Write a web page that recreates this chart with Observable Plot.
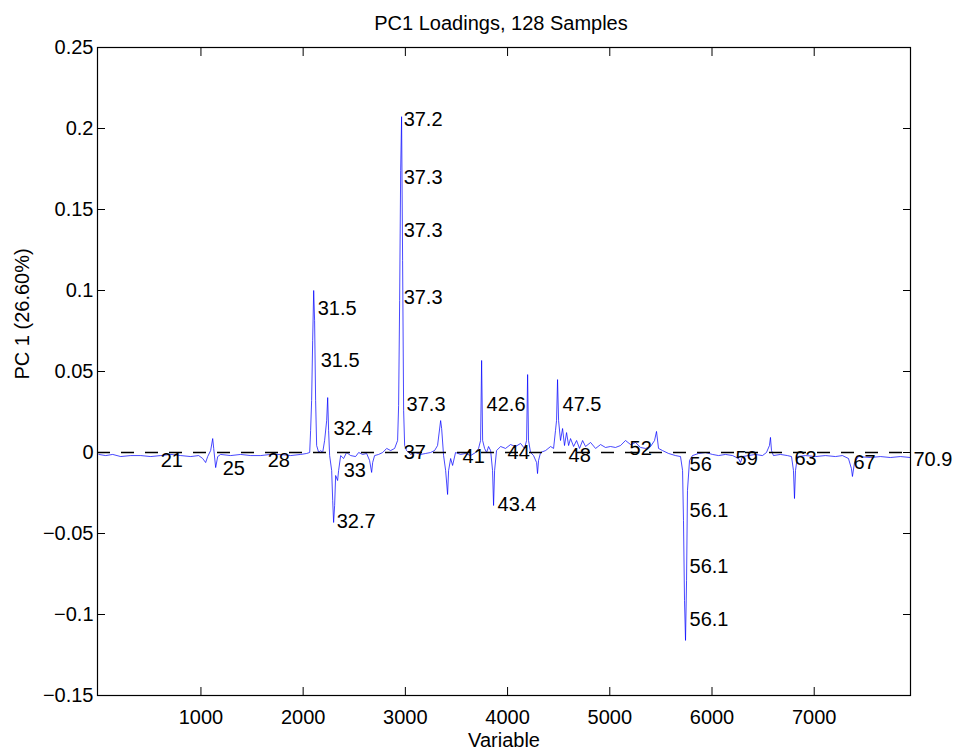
<!DOCTYPE html>
<html>
<head>
<meta charset="utf-8">
<script src="https://cdn.jsdelivr.net/npm/d3@7"></script>
<script src="https://cdn.jsdelivr.net/npm/@observablehq/plot@0.6"></script>
<style>
  html, body { margin: 0; padding: 0; background: #fff; }
  #chart { width: 958px; height: 751px; }
</style>
</head>
<body>
<div id="chart"></div>
<script>
// ---- Data ----
const titleText = "PC1 Loadings, 128 Samples";
const xLabel = "Variable";
const yLabel = "PC 1 (26.60%)";

const xDomain = [-12, 7942];
const yDomain = [-0.15, 0.25];
const xTicks = [1000, 2000, 3000, 4000, 5000, 6000, 7000];
const yTicks = [-0.15, -0.1, -0.05, 0, 0.05, 0.1, 0.15, 0.2, 0.25];

// PC1 loading trace (variable index, loading)
const variable = [
  1, 68, 137, 215, 313, 411, 509, 606, 704, 802, 900, 978, 1017, 1046, 1066, 1095, 1115, 1125, 1144, 1164,
  1193, 1291, 1389, 1487, 1584, 1682, 1780, 1878, 1976, 2034, 2064, 2073, 2083, 2093, 2103, 2112, 2122, 2132, 2152, 2171,
  2191, 2210, 2230, 2240, 2249, 2259, 2279, 2289, 2298, 2308, 2318, 2337, 2347, 2367, 2396, 2425, 2465, 2513, 2543, 2582,
  2621, 2650, 2670, 2680, 2699, 2738, 2778, 2817, 2856, 2895, 2924, 2934, 2944, 2954, 2963, 2973, 2983, 2993, 3012, 3051,
  3100, 3149, 3198, 3247, 3286, 3315, 3345, 3355, 3374, 3394, 3413, 3423, 3443, 3462, 3491, 3540, 3589, 3638, 3687, 3716,
  3736, 3746, 3756, 3775, 3795, 3814, 3834, 3853, 3863, 3873, 3892, 3932, 3980, 4029, 4078, 4127, 4166, 4186, 4196, 4205,
  4225, 4254, 4284, 4293, 4303, 4323, 4372, 4421, 4450, 4469, 4479, 4489, 4499, 4518, 4538, 4557, 4577, 4597, 4616, 4646,
  4675, 4704, 4734, 4763, 4812, 4861, 4910, 4958, 5007, 5056, 5105, 5154, 5203, 5252, 5301, 5350, 5399, 5438, 5457, 5477,
  5516, 5575, 5643, 5692, 5712, 5721, 5731, 5741, 5751, 5760, 5780, 5809, 5868, 5936, 6005, 6064, 6132, 6201, 6259, 6279,
  6298, 6357, 6425, 6494, 6533, 6562, 6572, 6582, 6601, 6670, 6738, 6778, 6797, 6807, 6817, 6836, 6914, 7012, 7110, 7208,
  7276, 7335, 7364, 7374, 7394, 7433, 7550, 7648, 7746, 7844, 7941
];
const loading = [
  -0.0012, -0.0019, -0.0012, -0.0025, -0.0019, -0.0019, -0.0025, -0.0019, -0.0012, -0.0019, -0.0025, -0.0019, -0.0037, -0.0062, -0.0025, 0.0012, 0.0086, 0.0025, -0.0093, -0.0025,
  -0.0012, -0.0019, -0.0012, -0.0019, -0.0019, -0.0012, -0.0012, -0.0019, -0.0012, -0.0006, 0, 0.0136, 0.0321, 0.0691, 0.1000, 0.0814, 0.0321, 0.0043, 0, 0.0012,
  0, 0.0074, 0.0197, 0.0339, 0.0136, -0.0019, -0.0111, -0.0296, -0.0432, -0.0327, -0.0142, -0.0173, -0.0111, -0.0019, -0.0037, 0, -0.0019, -0.0025, 0, -0.0012,
  -0.0006, -0.0049, -0.0123, -0.0062, -0.0019, -0.0012, 0, 0.0025, 0.0012, 0.0025, 0.0074, 0.0290, 0.0938, 0.1740, 0.2073, 0.1185, 0.0259, 0.0043, 0.0012, -0.0012,
  0, -0.0012, -0.0006, 0, 0.0012, 0.0043, 0.0197, 0.0148, -0.0019, -0.0111, -0.0259, -0.0111, -0.0037, -0.0080, 0, -0.0012, -0.0006, -0.0019, 0, 0.0025,
  0.0074, 0.0568, 0.0074, 0.0025, 0, 0.0037, 0.0012, -0.0111, -0.0327, -0.0111, 0.0012, 0.0037, 0.0025, 0.0049, 0.0037, 0.0056, 0.0025, 0.0074, 0.0481, 0.0074,
  0, -0.0019, -0.0062, -0.0130, -0.0049, 0, 0.0012, 0.0037, 0.0025, 0.0136, 0.0197, 0.0450, 0.0197, 0.0074, 0.0148, 0.0043, 0.0123, 0.0043, 0.0086, 0.0037,
  0.0074, 0.0025, 0.0074, 0.0037, 0.0062, 0.0025, 0.0049, 0.0031, 0.0037, 0.0031, 0.0043, 0.0074, 0.0049, 0.0062, 0.0031, 0.0025, 0.0037, 0.0074, 0.0130, 0.0025,
  0.0012, -0.0006, -0.0019, -0.0025, -0.0111, -0.0420, -0.0913, -0.1160, -0.0790, -0.0234, -0.0049, -0.0019, -0.0006, 0, -0.0012, -0.0019, -0.0012, -0.0019, -0.0037, -0.0062,
  -0.0025, -0.0019, -0.0012, -0.0019, 0, 0.0043, 0.0093, 0.0012, -0.0019, -0.0012, -0.0019, -0.0025, -0.0111, -0.0284, -0.0111, -0.0025, -0.0019, -0.0025, -0.0019, -0.0025,
  -0.0019, -0.0037, -0.0099, -0.0148, -0.0062, -0.0025, -0.0031, -0.0025, -0.0031, -0.0025, -0.0031
];

// Peak annotations (retention times)
const labelText = ["21", "25", "28", "31.5", "31.5", "32.4", "33", "32.7", "37.2", "37.3", "37.3", "37.3", "37.3", "37",
  "41", "42.6", "43.4", "44", "47.5", "48", "52", "56", "56.1", "56.1", "56.1", "59", "63", "67", "70.9"];
const labelX = [606, 1213, 1653, 2142, 2171, 2298, 2396, 2328, 2983, 2983, 2983, 2983, 3012, 2983,
  3560, 3795, 3902, 4000, 4538, 4597, 5193, 5780, 5780, 5780, 5780, 6230, 6807, 7384, 7971];
const labelY = [-0.0049, -0.0099, -0.0049, 0.0888, 0.0568, 0.0148, -0.0111, -0.0426, 0.2055, 0.1697, 0.1370, 0.0956, 0.0296, 0,
  -0.0025, 0.0296, -0.0321, 0, 0.0296, -0.0019, 0.0025, -0.0074, -0.0358, -0.0703, -0.1030, -0.0037, -0.0037, -0.0062, -0.0043];

// ---- Build tables ----
const trace = variable.map((v, i) => ({variable: v, loading: loading[i]}));
const labels = labelText.map((t, i) => ({text: t, x: labelX[i], y: labelY[i]}));

const font = "'Liberation Sans', Arial, Helvetica, sans-serif";

const chart = Plot.plot({
  width: 958,
  height: 751,
  marginLeft: 97,
  marginRight: 48,
  marginTop: 47,
  marginBottom: 56,
  style: {fontFamily: font, fontSize: "20px", color: "#000", background: "#fff"},
  x: {domain: xDomain},
  y: {domain: yDomain},
  marks: [
    Plot.line(trace, {x: "variable", y: "loading", stroke: "#0000ff", strokeWidth: 0.9, strokeOpacity: 0.8}),
    Plot.ruleY([0], {stroke: "#000", strokeWidth: 1.3, strokeDasharray: "13,11"}),
    Plot.text(labels, {x: "x", y: "y", text: "text", textAnchor: "start", lineAnchor: "middle", fontSize: 20, fill: "#000"}),
    Plot.frame({stroke: "#000", strokeWidth: 1.2}),
    Plot.axisX({anchor: "bottom", ticks: xTicks, tickFormat: d3.format("d"), tickSize: -8, tickPadding: 22, label: null, fontSize: 20}),
    Plot.axisX({anchor: "top", ticks: xTicks, tickFormat: () => "", tickSize: -8, label: null}),
    Plot.axisY({anchor: "left", ticks: yTicks, tickFormat: d3.format(""), tickSize: -8, tickPadding: 12, label: null, fontSize: 20}),
    Plot.axisY({anchor: "right", ticks: yTicks, tickFormat: () => "", tickSize: -8, label: null}),
    Plot.text([titleText], {frameAnchor: "top", dy: -24, dx: -3, lineAnchor: "middle", fontSize: 20}),
    Plot.text([xLabel], {frameAnchor: "bottom", dy: 45, lineAnchor: "middle", fontSize: 20}),
    Plot.text([yLabel], {frameAnchor: "left", dx: -75, dy: 8, rotate: -90, lineAnchor: "middle", fontSize: 20})
  ]
});
document.getElementById("chart").appendChild(chart);
</script>
</body>
</html>
